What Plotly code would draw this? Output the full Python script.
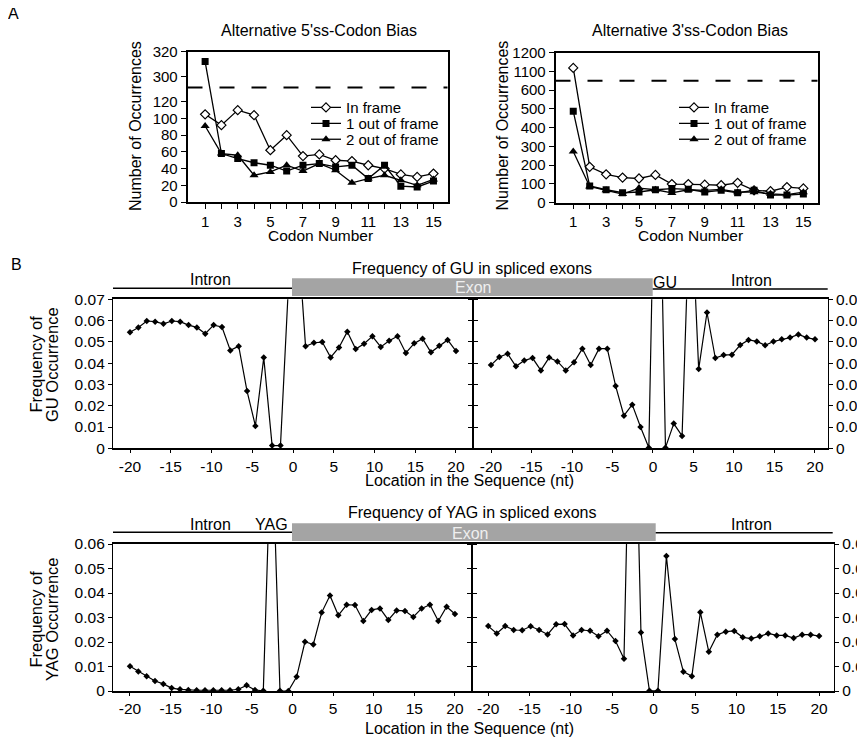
import plotly.graph_objects as go

# target picture size and the page's default body margin
PAGE_W, PAGE_H = 865, 738
BODY = 8
W, H = PAGE_W - BODY, PAGE_H - BODY
FONT = "Arial, Liberation Sans, Helvetica, sans-serif"

# ---------------- Panel A data ----------------
codons = list(range(1, 16))
codon_ticktext = [str(c) if c % 2 == 1 else "" for c in codons]

ss5_in_frame = [105, 92, 110, 104, 62, 80, 55, 57, 50, 49, 44, 40, 33, 30, 34]
ss5_out1 = [312, 58, 52, 47, 44, 37, 44, 46, 42, 44, 28, 44, 19, 18, 25]
ss5_out2 = [91, 58, 56, 32, 36, 44, 37, 46, 38, 23, 28, 32, 26, 20, 27]

ss3_in_frame = [1118, 190, 150, 133, 128, 147, 98, 98, 95, 92, 105, 65, 60, 82, 75]
ss3_out1 = [487, 88, 68, 52, 56, 68, 74, 70, 56, 65, 52, 65, 40, 40, 45]
ss3_out2 = [272, 85, 65, 45, 77, 68, 51, 68, 65, 70, 55, 55, 46, 42, 55]

series_names = ["In frame", "1 out of frame", "2 out of frame"]
ss5_ticks = [0, 20, 40, 60, 80, 100, 120, 300, 320]
ss3_ticks = [0, 100, 200, 300, 400, 500, 600, 1100, 1200]

# ---------------- Panel B data ----------------
positions = list(range(-20, 0)) + list(range(1, 21))
loc_ticks = [-20, -15, -10, -5, 0, 5, 10, 15, 20]
loc_ticktext = ["-20", "-15", "-10", "-5", "0", "5", "10", "15", "20"]
gu_ticks = [0, 0.01, 0.02, 0.03, 0.04, 0.05, 0.06, 0.07]
gu_ticktext = ["0", "0.01", "0.02", "0.03", "0.04", "0.05", "0.06", "0.07"]
yag_ticks = [0, 0.01, 0.02, 0.03, 0.04, 0.05, 0.06]
yag_ticktext = ["0", "0.01", "0.02", "0.03", "0.04", "0.05", "0.06"]

gu_exon_start = [0.0545, 0.0568, 0.0598, 0.0595, 0.0585, 0.0598, 0.0595, 0.0579, 0.0568, 0.0538,
                 0.0579, 0.0570, 0.0460, 0.0480, 0.0269, 0.0105, 0.0426, 0.0013, 0.0013, 0.080,
                 0.105, 0.0479, 0.0496, 0.0499, 0.0427, 0.0474, 0.0548, 0.0466, 0.0491, 0.0526,
                 0.0476, 0.0505, 0.0526, 0.0448, 0.0493, 0.0515, 0.0451, 0.0482, 0.0509, 0.0457]
gu_exon_end = [0.0391, 0.0429, 0.0444, 0.0385, 0.0412, 0.0424, 0.0366, 0.0426, 0.0408, 0.0366,
               0.0404, 0.0468, 0.0391, 0.0468, 0.0468, 0.0293, 0.0153, 0.0205, 0.0100, 0.0003,
               0.200, 0.0003, 0.0116, 0.0058, 0.125, 0.0372, 0.0638, 0.0424, 0.0438, 0.0440,
               0.0485, 0.0509, 0.0502, 0.0484, 0.0502, 0.0512, 0.0520, 0.0535, 0.0520, 0.0512]
yag_exon_start = [0.0101, 0.0080, 0.0060, 0.0041, 0.0029, 0.0012, 0.0007, 0.0004, 0.0003, 0.0003,
                  0.0003, 0.0003, 0.0003, 0.0007, 0.0023, 0.0004, 0.0001, 0.110, 0.0001, 0.0,
                  0.0058, 0.0201, 0.0190, 0.0320, 0.0390, 0.0309, 0.0352, 0.0351, 0.0286, 0.0331,
                  0.0337, 0.0290, 0.0329, 0.0327, 0.0302, 0.0337, 0.0352, 0.0286, 0.0344, 0.0314]
yag_exon_end = [0.0265, 0.0235, 0.0265, 0.0249, 0.0248, 0.0264, 0.0249, 0.0231, 0.0272, 0.0273,
                0.0227, 0.0249, 0.0246, 0.0223, 0.0246, 0.0204, 0.0132, 0.170, 0.0239, 0.0001,
                0.0001, 0.0551, 0.0212, 0.0079, 0.0060, 0.0321, 0.0160, 0.0230, 0.0242, 0.0245,
                0.0219, 0.0214, 0.0223, 0.0235, 0.0227, 0.0227, 0.0216, 0.0230, 0.0230, 0.0224]


def px(x):
    return (x - BODY) / W


def py(y):
    return 1 - (y - BODY) / H


# broken-axis scales for panel A
A5_LOW_END, A5_HIGH_START, A5_HIGH_FACTOR = 137.0, 291.2, 1.5


def a5_scale(v):
    return v if v <= A5_LOW_END else A5_LOW_END + (v - A5_HIGH_START) * A5_HIGH_FACTOR


A3_LOW_END, A3_SHIFT = 650.0, 400.0


def a3_scale(v):
    return v if v <= A3_LOW_END else v - A3_SHIFT


fig = go.Figure()

marker_styles = [
    dict(symbol="diamond", size=7, color="white", line=dict(color="black", width=1.2)),
    dict(symbol="square", size=7, color="black", line=dict(color="black", width=0)),
    dict(symbol="triangle-up", size=8, color="black", line=dict(color="black", width=0)),
]

left_legends = ["legend", "legend2", "legend3"]
right_legends = ["legend4", "legend5", "legend6"]

for name, vals, mk, lg in zip(series_names, [ss5_in_frame, ss5_out1, ss5_out2], marker_styles, left_legends):
    fig.add_trace(go.Scatter(x=codons, y=[a5_scale(v) for v in vals], mode="lines+markers",
                             name=name, xaxis="x", yaxis="y", legend=lg,
                             line=dict(color="black", width=1.3), marker=mk))
for name, vals, mk, lg in zip(series_names, [ss3_in_frame, ss3_out1, ss3_out2], marker_styles, right_legends):
    fig.add_trace(go.Scatter(x=codons, y=[a3_scale(v) for v in vals], mode="lines+markers",
                             name=name, xaxis="x2", yaxis="y2", legend=lg,
                             line=dict(color="black", width=1.3), marker=mk))

b_panels = [
    (gu_exon_start, "x3", "x4", "y3", (113, 472.7), (299.3, 448.3), [-22.09, 22.05], "left",
     [0, 0.07], gu_ticks, gu_ticktext),
    (gu_exon_end, "x5", "x6", "y5", (472.7, 827.7), (299.3, 448.3), [-22.26, 21.57], "right",
     [0, 0.07], gu_ticks, gu_ticktext),
    (yag_exon_start, "x7", "x8", "y7", (113, 471.7), (544, 691), [-22.09, 22.06], "left",
     [0, 0.06], yag_ticks, yag_ticktext),
    (yag_exon_end, "x9", "x10", "y9", (471.7, 834), (544, 691), [-22.0, 21.8], "right",
     [0, 0.06], yag_ticks, yag_ticktext),
]

axes = {}


def axname(a):
    return "xaxis" + a[1:] if a[0] == "x" else "yaxis" + a[1:]


for vals, xv, xd, ya, xdom, ydom, xr, side, yr, yt, ytt in b_panels:
    # empty trace so the visible (labelled) subplot exists
    fig.add_trace(go.Scatter(x=[], y=[], xaxis=xv, yaxis=ya, showlegend=False, hoverinfo="skip"))
    fig.add_trace(go.Scatter(x=[str(p) for p in positions], y=vals, mode="lines+markers",
                             xaxis=xd, yaxis=ya, showlegend=False,
                             line=dict(color="black", width=1.2),
                             marker=dict(symbol="diamond", size=5, color="black")))
    dom = [px(xdom[0]), px(xdom[1])]
    axes[axname(xv)] = dict(domain=dom, range=xr, anchor=ya, tickmode="array",
                            tickvals=loc_ticks, ticktext=loc_ticktext, ticks="outside",
                            ticklen=3, tickwidth=1.2, tickcolor="black", showline=True,
                            linecolor="black", linewidth=1.6, mirror=True, showgrid=False,
                            zeroline=False, automargin=False,
                            tickfont=dict(size=15.5, color="black"))
    n = len(positions)
    lo = (xr[0] - loc_ticks[0]) * (n - 1) / (loc_ticks[-1] - loc_ticks[0])
    hi = (xr[1] - loc_ticks[0]) * (n - 1) / (loc_ticks[-1] - loc_ticks[0])
    axes[axname(xd)] = dict(domain=dom, overlaying=xv, anchor=ya, type="category",
                            range=[lo, hi], visible=False, showgrid=False, zeroline=False,
                            automargin=False)
    axes[axname(ya)] = dict(domain=[py(ydom[1]), py(ydom[0])], range=yr, anchor=xv, side=side,
                            tickmode="array", tickvals=yt, ticktext=ytt, ticks="outside",
                            ticklen=4, tickwidth=1.2, tickcolor="black", showline=True,
                            linecolor="black", linewidth=1.3, mirror="ticks", showgrid=False,
                            zeroline=False, automargin=False,
                            tickfont=dict(size=15.5, color="black"))

common_a_x = dict(range=[-0.08, 15.86], tickmode="array", tickvals=codons, ticktext=codon_ticktext,
                  ticks="outside", ticklen=5, tickwidth=1.2, tickcolor="black", showline=True,
                  linecolor="black", linewidth=1.6, mirror=True, showgrid=False, zeroline=False,
                  automargin=False, tickfont=dict(size=15, color="black"))
common_a_y = dict(tickmode="array", ticks="outside", ticklen=5, tickwidth=1.2, tickcolor="black",
                  showline=True, linecolor="black", linewidth=1.6, mirror=True, showgrid=False,
                  zeroline=False, automargin=False, tickfont=dict(size=15, color="black"))

axes["xaxis"] = dict(common_a_x, domain=[px(187.5), px(447.5)], anchor="y")
axes["yaxis"] = dict(common_a_y, domain=[py(202), py(51.5)], anchor="x",
                     range=[0, a5_scale(320)], tickvals=[a5_scale(v) for v in ss5_ticks],
                     ticktext=[str(v) for v in ss5_ticks])
axes["xaxis2"] = dict(common_a_x, domain=[px(555.5), px(817.5)], anchor="y2")
axes["yaxis2"] = dict(common_a_y, domain=[py(202.5), py(52.5)], anchor="x2",
                      range=[0, a3_scale(1200)], tickvals=[a3_scale(v) for v in ss3_ticks],
                      ticktext=[str(v) for v in ss3_ticks])

fig.update_layout(**axes)

# dashed break lines
fig.add_shape(type="line", xref="x domain", yref="y", x0=0, x1=1, y0=A5_LOW_END, y1=A5_LOW_END,
              line=dict(color="black", width=2, dash="15px,17px"))
fig.add_shape(type="line", xref="x2 domain", yref="y2", x0=0, x1=1, y0=A3_LOW_END, y1=A3_LOW_END,
              line=dict(color="black", width=2, dash="15px,17px"))

# header bars for panel B
GRAY = "#a4a4a4"


def hline(x0, x1, y, width=1.4):
    fig.add_shape(type="line", xref="paper", yref="paper", x0=px(x0), x1=px(x1), y0=py(y), y1=py(y),
                  line=dict(color="black", width=width))


def bar(x0, x1, y0, y1):
    fig.add_shape(type="rect", xref="paper", yref="paper", x0=px(x0), x1=px(x1), y0=py(y1), y1=py(y0),
                  line=dict(width=0), fillcolor=GRAY)


def text(x, y, s, size=16, color="black", angle=0):
    fig.add_annotation(x=px(x), y=py(y), xref="paper", yref="paper", text=s, showarrow=False,
                       font=dict(size=size, color=color, family=FONT), textangle=angle,
                       xanchor="center", yanchor="middle")


hline(113, 292, 288.3)
bar(292, 652.7, 278.3, 296)
hline(652.7, 827.7, 289)
hline(113, 292, 532.3)
bar(292, 655.7, 523.3, 541)
hline(655.7, 832.7, 532.7)

# texts
text(13.5, 14, "A", 16)
text(16.5, 264, "B", 16)
text(319, 30.5, "Alternative 5'ss-Codon Bias", 16)
text(690, 30.5, "Alternative 3'ss-Codon Bias", 16)
text(135, 126, "Number of Occurrences", 16, angle=-90)
text(501.5, 126, "Number of Occurrences", 16, angle=-90)
text(320, 235, "Codon Number", 15.5)
text(690, 235, "Codon Number", 15.5)

text(471.7, 268.3, "Frequency of GU in spliced exons", 16)
text(210.5, 279.5, "Intron", 16)
text(472.7, 287.5, "Exon", 16, color="#efefef")
text(664.5, 282, "GU", 16)
text(751.7, 280, "Intron", 16)
text(35, 364.5, "Frequency of", 16.5, angle=-90)
text(51.5, 364.5, "GU Occurrence", 16.5, angle=-90)
text(470, 481, "Location in the Sequence (nt)", 16)

text(471.5, 512.5, "Frequency of YAG in spliced exons", 16)
text(210, 524, "Intron", 16)
text(271, 524, "YAG", 16)
text(470, 533, "Exon", 16, color="#efefef")
text(751, 524, "Intron", 16)
text(35, 619.5, "Frequency of", 16.5, angle=-90)
text(51.5, 619.5, "YAG Occurrence", 16.5, angle=-90)
text(470, 728, "Location in the Sequence (nt)", 16)

legend_common = dict(xanchor="left", yanchor="middle", bgcolor="rgba(0,0,0,0)", borderwidth=0,
                     font=dict(size=15, color="black", family=FONT), itemwidth=30)
legend_rows = [107.7, 123.7, 139.5]
legend_layout = {}
for lg, row in zip(left_legends, legend_rows):
    legend_layout[lg] = dict(legend_common, x=px(306), y=py(row))
for lg, row in zip(right_legends, legend_rows):
    legend_layout[lg] = dict(legend_common, x=px(674), y=py(row))

fig.update_layout(
    template="none",
    width=W, height=H, margin=dict(l=0, r=0, t=0, b=0, autoexpand=False),
    paper_bgcolor="white", plot_bgcolor="white",
    font=dict(family=FONT, color="black"),
    showlegend=True,
    **legend_layout,
)

fig.write_html("out.html")
